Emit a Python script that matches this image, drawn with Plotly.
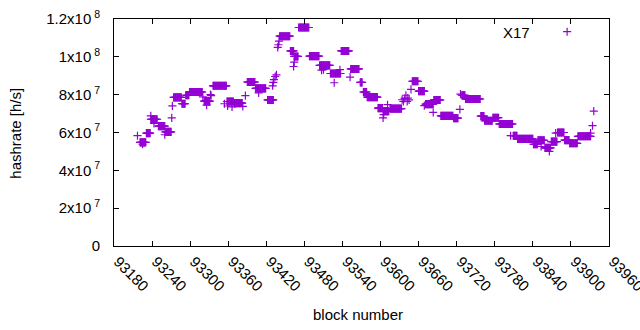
import plotly.graph_objects as go

# runs of consecutive blocks sharing one hashrate value (value in units of 1e7 h/s)
run_start = [93221, 93231, 93238, 93250, 93261, 93274, 93287, 93293, 93299, 93322,
             93336, 93358, 93369, 93390, 93403, 93422, 93441, 93458, 93464, 93471,
             93488, 93504, 93521, 93538, 93553, 93568, 93573, 93579, 93596, 93604,
             93615, 93650, 93660, 93671, 93684, 93695, 93715, 93728, 93734, 93758,
             93764, 93777, 93787, 93809, 93816, 93841, 93848, 93859, 93869, 93879,
             93890, 93898, 93911]
run_end = [93230, 93237, 93248, 93260, 93270, 93286, 93292, 93298, 93319, 93331,
           93357, 93368, 93382, 93402, 93419, 93431, 93457, 93463, 93470, 93487,
           93503, 93520, 93537, 93550, 93566, 93571, 93578, 93595, 93603, 93613,
           93633, 93659, 93669, 93683, 93694, 93714, 93722, 93733, 93757, 93763,
           93776, 93786, 93808, 93815, 93840, 93847, 93858, 93868, 93878, 93889,
           93897, 93910, 93931]
run_value = [5.48, 5.97, 6.70, 6.34, 6.03, 7.86, 7.52, 7.97, 8.14, 7.66,
             8.47, 7.64, 7.55, 8.67, 8.33, 7.72, 11.09, 10.31, 10.02, 11.55,
             10.04, 9.55, 9.12, 10.31, 9.36, 8.65, 8.14, 7.87, 7.29, 7.13,
             7.26, 8.71, 8.19, 7.50, 7.72, 6.88, 6.76, 7.97, 7.77, 6.87,
             6.62, 6.78, 6.45, 5.83, 5.66, 5.38, 5.59, 5.19, 5.52, 6.00,
             5.60, 5.43, 5.80]

# isolated blocks
single_block = [93217, 93225, 93238, 93243, 93260, 93271, 93272, 93320, 93326, 93332,
                93333, 93354, 93359, 93366, 93383, 93387, 93408, 93430, 93431, 93432,
                93434, 93436, 93438, 93439, 93440, 93463, 93464, 93507, 93510, 93527,
                93536, 93552, 93604, 93605, 93611, 93634, 93636, 93638, 93640, 93642,
                93643, 93645, 93648, 93669, 93683, 93725, 93726, 93805, 93853, 93866,
                93876, 93931, 93934, 93936]
single_value = [5.83, 5.38, 6.88, 6.48, 5.88, 6.77, 7.41, 7.88, 7.45, 8.00,
                7.95, 7.52, 7.40, 7.35, 7.38, 7.95, 8.09, 8.47, 8.65, 8.80,
                8.96, 9.05, 10.50, 10.64, 10.83, 9.49, 9.72, 9.30, 9.32, 8.63,
                9.32, 8.93, 6.77, 6.95, 7.47, 7.73, 7.64, 7.80, 7.97, 7.64,
                7.82, 7.72, 8.28, 7.42, 7.06, 7.22, 8.03, 5.83, 5.26, 5.00,
                5.97, 5.97, 6.36, 7.13]

x_ticks = list(range(93180, 93961, 60))
y_tickvals = [0, 2e7, 4e7, 6e7, 8e7, 1e8, 1.2e8]
y_ticktext = ["0", "2x10<sup> 7</sup>", "4x10<sup> 7</sup>", "6x10<sup> 7</sup>",
              "8x10<sup> 7</sup>", "1x10<sup> 8</sup>", "1.2x10<sup> 8</sup>"]

xs, ys = [], []
for s, e, v in zip(run_start, run_end, run_value):
    for b in range(s, e + 1):
        xs.append(b)
        ys.append(v * 1e7)
for b, v in zip(single_block, single_value):
    xs.append(b)
    ys.append(v * 1e7)

color = "#9400D3"
font = "Liberation Sans, Arial, sans-serif"

fig = go.Figure()
fig.add_trace(go.Scatter(
    x=xs, y=ys, mode="markers", name=" ",
    marker=dict(symbol="cross-thin", size=5.8, color=color,
                line=dict(color=color, width=1.2)),
    showlegend=True,
))

fig.update_layout(
    width=640, height=330,
    margin=dict(l=114, r=31, t=19, b=84, autoexpand=False),
    paper_bgcolor="white", plot_bgcolor="white",
    font=dict(family=font, size=15, color="black"),
    showlegend=True,
    legend=dict(x=0.875, y=0.943, xanchor="left", yanchor="middle",
                bgcolor="rgba(0,0,0,0)", font=dict(size=15)),
    annotations=[
        dict(text="X17", xref="paper", yref="paper", x=0.8444, y=0.9427,
             xanchor="right", yanchor="middle", showarrow=False,
             font=dict(size=15)),
        dict(text="hashrate [h/s]", xref="paper", yref="paper", x=-0.1985, y=0.498,
             xanchor="center", yanchor="middle", textangle=-90, showarrow=False,
             font=dict(size=15)),
        dict(text="block number", xref="paper", yref="paper", x=0.4937, y=-0.3026,
             xanchor="center", yanchor="middle", showarrow=False,
             font=dict(size=15)),
    ],
)
fig.update_xaxes(range=[93180, 93960], tickvals=x_ticks, ticktext=[str(t) for t in x_ticks],
                 tickangle=45, ticks="inside", ticklen=5, tickcolor="black",
                 showline=True, linecolor="black", linewidth=1, mirror="allticks",
                 showgrid=False, zeroline=False, tickfont=dict(size=15),
                 automargin=False, ticklabeloverflow="allow", ticklabelshift=4)
fig.update_yaxes(range=[0, 1.2e8], tickvals=y_tickvals, ticktext=y_ticktext,
                 ticks="inside", ticklen=5, tickcolor="black",
                 showline=True, linecolor="black", linewidth=1, mirror="allticks",
                 showgrid=False, zeroline=False, tickfont=dict(size=15),
                 ticklabelstandoff=10, automargin=False)

fig.write_html("out.html", config={"displayModeBar": False},
               post_script="document.body.style.margin='0';document.body.style.overflow='hidden';")
